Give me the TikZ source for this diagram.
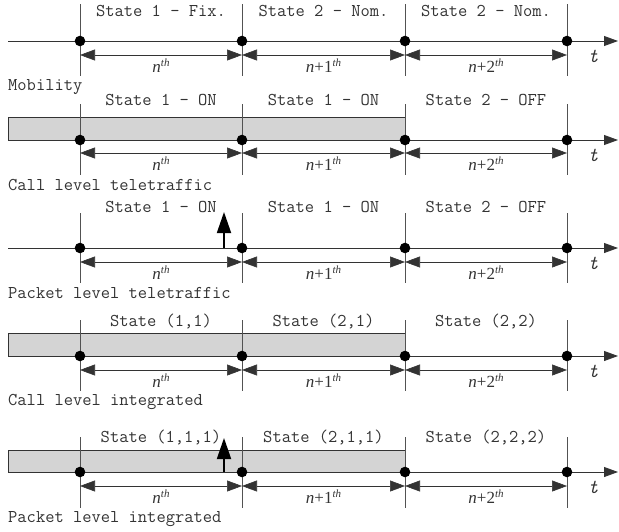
\documentclass[tikz,border=0pt]{standalone}
\usepackage{fontspec}
\setmainfont{Liberation Serif}
\usetikzlibrary{arrows.meta}
\definecolor{ink}{HTML}{333333}
\definecolor{barfill}{HTML}{D4D4D4}
\tikzset{
  vline/.style={draw=ink!85, line width=0.8pt},
  axisline/.style={draw=ink, line width=0.8pt, -{Triangle[length=14pt,width=10pt]}},
  dimarrow/.style={draw=ink, line width=0.6pt, {Triangle[length=15pt,width=11pt]}-{Triangle[length=15pt,width=11pt]}},
  uparrow/.style={draw=black, line width=1.8pt, -{Triangle[length=21pt,width=14pt]}},
  dotmark/.style={fill=black},
  barbox/.style={draw=ink, line width=0.8pt, fill=barfill},
  statelab/.style={font=\ttfamily\fontsize{18}{20}\selectfont, text=ink, inner sep=0pt},
  caplab/.style={font=\ttfamily\fontsize{18}{20}\selectfont, text=ink, inner sep=0pt, anchor=west},
  nlab/.style={font=\fontsize{17}{19}\selectfont, text=ink, inner sep=0pt},
  tlab/.style={font=\ttfamily\itshape\fontsize{20}{22}\selectfont, text=ink, inner sep=0pt},
}
\newcommand{\thsup}{\raisebox{6pt}{\fontsize{11}{11}\selectfont\textit{th}}}
% #1 id, #2 axis y, #3 top y, #4 arrow y, #5 bottom y, #6 label y, #7-#9 labels
\newcommand{\tline}[9]{%
  \foreach \k/\xx in {a/80,b/242,c/405,d/567}{
    \coordinate (#1top\k) at (\xx,#3);
    \coordinate (#1bot\k) at (\xx,#5);
    \coordinate (#1dot\k) at (\xx,#2);
    \coordinate (#1arr\k) at (\xx,#4);
  }
  \coordinate (#1start) at (8,#2);
  \coordinate (#1end) at (618,#2);
  \draw[vline] (#1topa) -- (#1bota);
  \draw[vline] (#1topb) -- (#1botb);
  \draw[vline] (#1topc) -- (#1botc);
  \draw[vline] (#1topd) -- (#1botd);
  \draw[axisline] (#1start) -- (#1end);
  \fill[dotmark] (#1dota) circle (5.3);
  \fill[dotmark] (#1dotb) circle (5.3);
  \fill[dotmark] (#1dotc) circle (5.3);
  \fill[dotmark] (#1dotd) circle (5.3);
  \draw[dimarrow] (#1arra) -- (#1arrb);
  \draw[dimarrow] (#1arrb) -- (#1arrc);
  \draw[dimarrow] (#1arrc) -- (#1arrd);
  \node[statelab] (#1s1) at (161,#6) {#7};
  \node[statelab] (#1s2) at (323.5,#6) {#8};
  \node[statelab] (#1s3) at (486,#6) {#9};
  \node[nlab] (#1n1) at (161,#4+11) {\textit{n}\thsup};
  \node[nlab] (#1n2) at (323.5,#4+11) {\textit{n}+1\thsup};
  \node[nlab] (#1n3) at (486,#4+11) {\textit{n}+2\thsup};
  \node[tlab] (#1t) at (593,#2+15) {t};
}
\begin{document}
\begin{tikzpicture}[x=1pt,y=-1pt]
\useasboundingbox (0,0) rectangle (619,531);
% bars
\draw[barbox] (8,117) rectangle (405,140);
\draw[barbox] (8,333) rectangle (405,356);
\draw[barbox] (8,450) rectangle (405,472);
% panels
\tline{p}{41}{4}{55}{76}{11}{State 1 - Fix.}{State 2 - Nom.}{State 2 - Nom.}
\tline{q}{140}{104}{153}{175}{100}{State 1 - ON}{State 1 - ON}{State 2 - OFF}
\tline{r}{248}{213}{262}{283}{207}{State 1 - ON}{State 1 - ON}{State 2 - OFF}
\tline{s}{356}{320}{370}{391}{321}{State (1,1)}{State (2,1)}{State (2,2)}
\tline{u}{472}{437}{486}{508}{437}{State (1,1,1)}{State (2,1,1)}{State (2,2,2)}
% up arrows
\coordinate (rpkt0) at (224,248);
\coordinate (rpkt1) at (224,212);
\draw[uparrow] (rpkt0) -- (rpkt1);
\coordinate (upkt0) at (224,472);
\coordinate (upkt1) at (224,438);
\draw[uparrow] (upkt0) -- (upkt1);
% captions
\node[caplab] (c1) at (8,87) {Mobility};
\node[caplab] (c2) at (8,185) {Call level teletraffic};
\node[caplab] (c3) at (8,293) {Packet level teletraffic};
\node[caplab] (c4) at (8,402) {Call level integrated};
\node[caplab] (c5) at (8,519) {Packet level integrated};
\end{tikzpicture}
\end{document}
